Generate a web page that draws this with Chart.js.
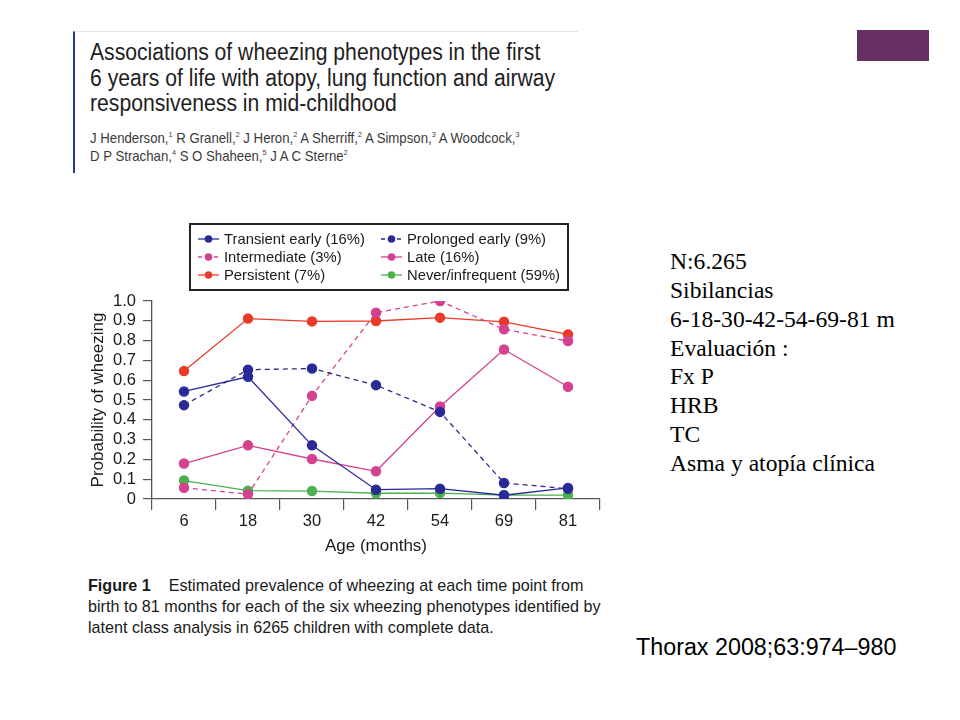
<!DOCTYPE html>
<html>
<head>
<meta charset="utf-8">
<script src="https://cdn.jsdelivr.net/npm/chart.js@4"></script>
<style>
  html, body { margin:0; padding:0; background:#fff; }
  body { width:960px; height:720px; position:relative; overflow:hidden; font-family:"Liberation Sans", Arial, sans-serif; }
  .abs { position:absolute; white-space:nowrap; }
  #hdr { left:73px; top:31px; width:503px; height:141px; border-left:2.5px solid #2634b4; border-top:1px solid #e4e4e4; background:#fff; }
  .ttl { font-size:23.5px; line-height:1; color:#1e1e1e; left:15px; transform-origin:0 0; transform:scaleX(0.90); }
  .auth { font-size:14.5px; line-height:1; color:#3a3a3a; left:15px; transform-origin:0 0; transform:scaleX(0.91); }
  #purple { left:857px; top:30px; width:72px; height:31px; background:#673064; }
  .rt { font-family:"Liberation Serif", "Times New Roman", serif; font-size:23.6px; line-height:1; color:#000; left:670px; }
  .cap { font-size:17px; line-height:1; color:#1a1a1a; left:88px; transform-origin:0 0; transform:scaleX(0.95); }
  #wrap { left:70px; top:215px; width:540px; height:350px; }
</style>
</head>
<body>
<div id="hdr" class="abs">
  <div class="abs ttl" style="top:9px">Associations of wheezing phenotypes in the first</div>
  <div class="abs ttl" style="top:35px">6 years of life with atopy, lung function and airway</div>
  <div class="abs ttl" style="top:60px">responsiveness in mid-childhood</div>
  <div class="abs auth" style="top:99px">J Henderson,<sup style="font-size:8px">1</sup> R Granell,<sup style="font-size:8px">2</sup> J Heron,<sup style="font-size:8px">2</sup> A Sherriff,<sup style="font-size:8px">2</sup> A Simpson,<sup style="font-size:8px">3</sup> A Woodcock,<sup style="font-size:8px">3</sup></div>
  <div class="abs auth" style="top:117px">D P Strachan,<sup style="font-size:8px">4</sup> S O Shaheen,<sup style="font-size:8px">5</sup> J A C Sterne<sup style="font-size:8px">2</sup></div>
</div>
<div id="purple" class="abs"></div>

<div id="wrap" class="abs"><canvas id="c" width="540" height="350"></canvas></div>

<div class="abs cap" style="top:577px"><b>Figure 1</b>&nbsp;&nbsp;&nbsp; Estimated prevalence of wheezing at each time point from</div>
<div class="abs cap" style="top:598px">birth to 81 months for each of the six wheezing phenotypes identified by</div>
<div class="abs cap" style="top:619px">latent class analysis in 6265 children with complete data.</div>

<div class="abs rt" style="top:250px">N:6.265</div>
<div class="abs rt" style="top:279px">Sibilancias</div>
<div class="abs rt" style="top:308px">6-18-30-42-54-69-81 m</div>
<div class="abs rt" style="top:337px">Evaluación :</div>
<div class="abs rt" style="top:365px">Fx P</div>
<div class="abs rt" style="top:394px">HRB</div>
<div class="abs rt" style="top:423px">TC</div>
<div class="abs rt" style="top:452px">Asma y atopía clínica</div>

<div class="abs" style="left:636px; top:636px; font-size:23.3px; line-height:1; color:#000;">Thorax 2008;63:974–980</div>

<script>
// ---- Data ----
const ageMonths = ["6", "18", "30", "42", "54", "69", "81"];
const yTickLabels = ["0", "0.1", "0.2", "0.3", "0.4", "0.5", "0.6", "0.7", "0.8", "0.9", "1.0"];

const transientEarly = [0.543, 0.617, 0.271, 0.047, 0.052, 0.019, 0.056];
const prolongedEarly = [0.474, 0.653, 0.659, 0.575, 0.440, 0.081, 0.052];
const intermediate   = [0.057, 0.024, 0.521, 0.941, 1.000, 0.857, 0.798];
const late           = [0.179, 0.271, 0.202, 0.140, 0.467, 0.755, 0.567];
const persistent     = [0.646, 0.911, 0.897, 0.899, 0.916, 0.895, 0.831];
const neverInfrequent= [0.093, 0.042, 0.040, 0.029, 0.030, 0.020, 0.020];

const seriesNames = [
  "Transient early (16%)", "Prolonged early (9%)",
  "Intermediate (3%)", "Late (16%)",
  "Persistent (7%)", "Never/infrequent (59%)"
];

const NAVY = "#2a2a96", MAG = "#d4428f", RED = "#e83c28", GRN = "#4cb04f";

function ds(label, data, color, dashed) {
  return {
    label, data,
    borderColor: color, backgroundColor: color,
    pointBackgroundColor: color, pointBorderColor: color,
    borderWidth: 1.3, pointRadius: 4.6, pointHoverRadius: 4.6,
    borderDash: dashed ? [5, 4] : [],
    tension: 0, fill: false, _dashed: dashed
  };
}

const datasets = [
  ds(seriesNames[0], transientEarly, NAVY, false),
  ds(seriesNames[1], prolongedEarly, NAVY, true),
  ds(seriesNames[2], intermediate, MAG, true),
  ds(seriesNames[3], late, MAG, false),
  ds(seriesNames[4], persistent, RED, false),
  ds(seriesNames[5], neverInfrequent, GRN, false)
];

// Custom boxed two-column legend drawn from the dataset definitions
const boxLegend = {
  id: "boxLegend",
  afterDraw(chart) {
    const ctx = chart.ctx;
    const bx = 120, by = 9, bw = 378, bh = 66;
    ctx.save();
    ctx.strokeStyle = "#222"; ctx.lineWidth = 2;
    ctx.strokeRect(bx, by, bw, bh);
    ctx.font = "14.8px 'Liberation Sans', Arial, sans-serif";
    ctx.textBaseline = "middle";
    const colX = [bx + 8, bx + 191];
    const rowY = [by + 15, by + 33, by + 51];
    chart.data.datasets.forEach((d, i) => {
      const x = colX[i % 2], y = rowY[Math.floor(i / 2)];
      ctx.strokeStyle = d.borderColor; ctx.lineWidth = 1.3;
      ctx.setLineDash(d._dashed ? [4, 4] : []);
      ctx.beginPath(); ctx.moveTo(x, y); ctx.lineTo(x + 21, y); ctx.stroke();
      ctx.setLineDash([]);
      ctx.fillStyle = d.borderColor;
      ctx.beginPath(); ctx.arc(x + 10.5, y, 3.8, 0, Math.PI * 2); ctx.fill();
      ctx.fillStyle = "#1a1a1a";
      ctx.fillText(d.label, x + 26, y + 1);
    });
    ctx.restore();
  }
};

const FAM = "'Liberation Sans', Arial, sans-serif";
const tickFont = { family: FAM, size: 16.5 };

new Chart(document.getElementById("c"), {
  type: "line",
  data: { labels: ageMonths, datasets },
  options: {
    responsive: false, animation: false,
    layout: { padding: { top: 86, right: 10, left: 14, bottom: 4 } },
    plugins: { legend: { display: false }, tooltip: { enabled: false } },
    scales: {
      x: {
        offset: true,
        grid: { offset: true, drawOnChartArea: false, drawTicks: true, tickLength: 11, color: "#555", lineWidth: 1.2 },
        border: { display: true, color: "#555", width: 1.3 },
        ticks: { color: "#1a1a1a", font: tickFont, padding: 2 },
        title: { display: true, text: "Age (months)", color: "#1a1a1a", font: { family: FAM, size: 17 }, padding: { top: 0 } },
        afterFit(s) { s.height = 62; }
      },
      y: {
        min: 0, max: 1,
        grid: { drawOnChartArea: false, drawTicks: true, tickLength: 9, color: "#555", lineWidth: 1.2 },
        border: { display: true, color: "#555", width: 1.3 },
        ticks: {
          stepSize: 0.1, autoSkip: false, color: "#1a1a1a", font: tickFont, padding: 7,
          callback: (v, i) => yTickLabels[i]
        },
        title: { display: true, text: "Probability of wheezing", color: "#1a1a1a", font: { family: FAM, size: 17 }, padding: { bottom: 0 } },
        afterFit(s) { s.width = 68; }
      }
    }
  },
  plugins: [boxLegend]
});
</script>
</body>
</html>
